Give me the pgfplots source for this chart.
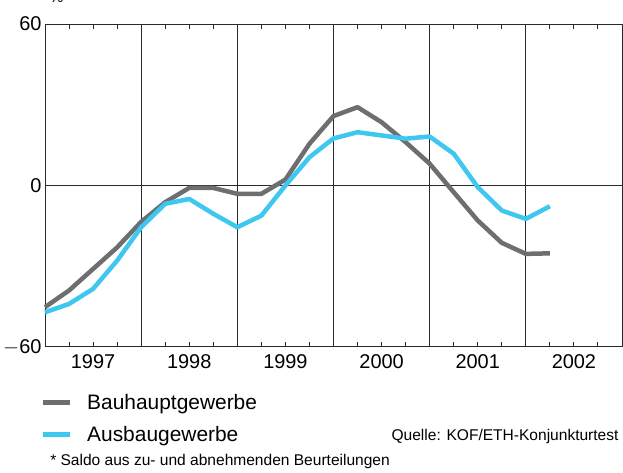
\documentclass[border=0pt]{standalone}
\usepackage{pgfplots}
\pgfplotsset{compat=1.18}
\usepackage{fontspec}
\setmainfont{Liberation Sans}
\definecolor{bgray}{HTML}{6D6E71}
\definecolor{bblue}{HTML}{3EC8F0}
\definecolor{gridc}{HTML}{2A2A2A}
\begin{document}
\begin{tikzpicture}
\useasboundingbox (0,0) rectangle (623bp,473bp);
\begin{axis}[
  at={(45bp,126bp)}, anchor=south west,
  scale only axis, width=577bp, height=323bp,
  xmin=1997, xmax=2003, ymin=-60, ymax=60,
  axis line style={gridc, line width=1bp},
  xtick={1998,1999,2000,2001,2002},
  xticklabels={},
  minor xtick={1997.25,1997.5,1997.75,1998.25,1998.5,1998.75,1999.25,1999.5,1999.75,2000.25,2000.5,2000.75,2001.25,2001.5,2001.75,2002.25,2002.5,2002.75},
  extra x ticks={1997.5,1998.5,1999.5,2000.5,2001.5,2002.5},
  extra x tick labels={1997,1998,1999,2000,2001,2002},
  extra x tick style={major tick length=0pt, grid=none},
  xmajorgrids, major grid style={gridc, line width=1bp},
  major tick length=0pt, minor tick length=5bp,
  minor tick style={gridc, line width=1bp},
  tick align=inside,
  ytick={-60,0,60},
  yticklabels={$-$60,0,60},
  extra y ticks={0}, extra y tick labels={},
  extra y tick style={ymajorgrids, major grid style={gridc, line width=1bp}},
  /pgf/number format/assume math mode=true,
  tick label style={font=\fontsize{20}{24}\selectfont},
  xticklabel style={yshift=-4bp},
  legend style={draw=none, fill=none, at={(rel axis cs:0,-0.135)}, xshift=-7bp, anchor=north west,
    font=\fontsize{21}{25}\selectfont, nodes={inner sep=1.5bp}, row sep=12bp},
  legend cell align=left,
  legend image code/.code={\draw[#1, line width=4.5bp] (0bp,0bp) -- (27bp,0bp); \path (40bp,0bp);},
  clip=false,
]
\addplot[bgray, line width=4.5bp, line join=round] coordinates {
(1997.00,-45.2) (1997.25,-39) (1997.50,-31) (1997.75,-23) (1998.00,-13.5)
(1998.25,-6.2) (1998.50,-0.9) (1998.75,-0.9) (1999.00,-3.1) (1999.25,-3.1)
(1999.50,2.2) (1999.75,15.5) (2000.00,25.8) (2000.25,29.1) (2000.50,23.5)
(2000.75,16.1) (2001.00,8.1) (2001.25,-2.5) (2001.50,-13) (2001.75,-21.3)
(2002.00,-25.4) (2002.25,-25.2)};
\addlegendentry{Bauhauptgewerbe}
\addplot[bblue, line width=4.5bp, line join=round] coordinates {
(1997.00,-47.1) (1997.25,-44) (1997.50,-38.4) (1997.75,-27.9) (1998.00,-15.5)
(1998.25,-6.8) (1998.50,-5) (1998.75,-10.5) (1999.00,-15.5) (1999.25,-11.2)
(1999.50,0) (1999.75,10.5) (2000.00,17.5) (2000.25,19.8) (2000.50,18.6)
(2000.75,17.4) (2001.00,18.2) (2001.25,11.8) (2001.50,-0.6) (2001.75,-9.3)
(2002.00,-12.4) (2002.25,-7.7)};
\addlegendentry{Ausbaugewerbe}
\node[anchor=base, font=\fontsize{15.6}{18}\selectfont] at (rel axis cs:0.02,1.068) {\%};
\node[anchor=base east, font=\fontsize{15.6}{18}\selectfont] at (rel axis cs:1,-0.288) {Quelle: KOF/ETH-Konjunkturtest};
\node[anchor=base west, font=\fontsize{15.6}{18}\selectfont] at (rel axis cs:0.003,-0.368) {* Saldo aus zu- und abnehmenden Beurteilungen};
\end{axis}
\end{tikzpicture}
\end{document}
